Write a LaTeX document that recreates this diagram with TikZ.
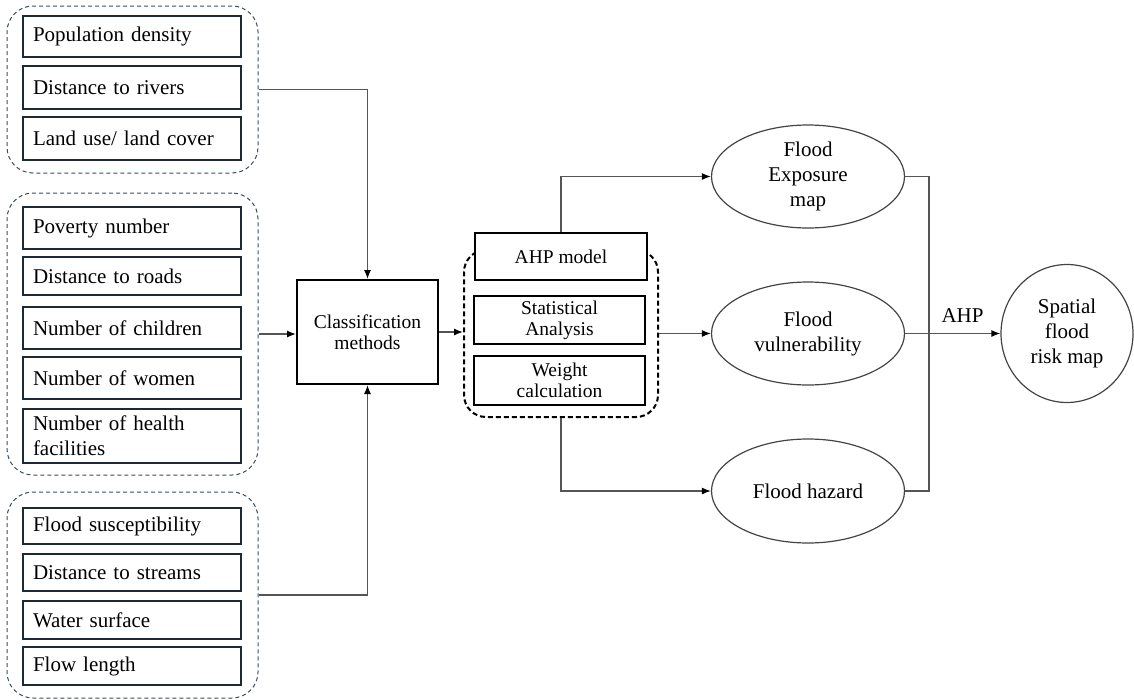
\documentclass[tikz,border=0pt]{standalone}
\usepackage{fontspec}
\setmainfont{Liberation Serif}
\usetikzlibrary{shapes.geometric,arrows.meta}
\definecolor{grpcol}{HTML}{3A4E5C}
\definecolor{boxcol}{HTML}{1E2A33}
\definecolor{conncol}{HTML}{555555}
\definecolor{ellcol}{HTML}{444444}
\tikzset{
  grp/.style={draw=grpcol, line width=1pt, dash pattern=on 4pt off 3pt, rounded corners=26pt, inner sep=0pt},
  inbox/.style={draw=boxcol, line width=1.3pt, fill=white, inner xsep=10pt, inner ysep=0pt,
     text width=198pt, align=left, font=\fontsize{21}{25}\selectfont},
  midbox/.style={draw=black, line width=2pt, fill=white, inner sep=0pt, align=center,
     font=\fontsize{19.5}{21}\selectfont},
  midgrp/.style={draw=black, line width=2pt, dash pattern=on 5pt off 3pt, rounded corners=22pt, inner sep=0pt},
  ell/.style={draw=ellcol, line width=1.2pt, ellipse, inner sep=0pt, align=center,
     font=\fontsize{21}{25}\selectfont},
  conn/.style={draw=conncol, line width=1.3pt},
  arr/.style={conn, -{Latex[length=9pt,width=7pt,color=black]}},
}
\begin{document}
\begin{tikzpicture}[x=1pt,y=-1pt]
\useasboundingbox (0,0) rectangle (1134,699);
% left groups
\node[grp, minimum width=251pt, minimum height=167pt] (g1) at (132.5,89.5) {};
\node[grp, minimum width=251pt, minimum height=282pt] (g2) at (132.5,334) {};
\node[grp, minimum width=251pt, minimum height=206pt] (g3) at (132.5,595) {};
% left boxes
\node[inbox, minimum height=41pt] (b1) at (132,36.5) {Population density};
\node[inbox, minimum height=43pt] (b2) at (132,87.5) {Distance to rivers};
\node[inbox, minimum height=43pt] (b3) at (132,138.5) {Land use/ land cover};
\node[inbox, minimum height=42pt] (b4) at (132,228) {Poverty number};
\node[inbox, minimum height=38pt] (b5) at (132,276) {Distance to roads};
\node[inbox, minimum height=42pt] (b6) at (132,328) {Number of children};
\node[inbox, minimum height=42pt] (b7) at (132,378) {Number of women};
\node[inbox, minimum height=54pt] (b8) at (132,436) {Number of health\\facilities};
\node[inbox, minimum height=36pt] (b9) at (132,526) {Flood susceptibility};
\node[inbox, minimum height=37pt] (b10) at (132,572.5) {Distance to streams};
\node[inbox, minimum height=38pt] (b11) at (132,620) {Water surface};
\node[inbox, minimum height=38pt] (b12) at (132,666) {Flow length};
% classification
\node[midbox, minimum width=141pt, minimum height=104pt] (cls) at (367.5,332) {Classification\\methods};
% middle group
\node[midgrp, minimum width=194pt, minimum height=167pt] (mid) at (561,333.5) {};
\node[midbox, minimum width=172pt, minimum height=47pt] (ahp) at (561,256.5) {AHP model};
\node[midbox, minimum width=171pt, minimum height=48pt] (sta) at (559.5,320) {Statistical\\Analysis};
\node[midbox, minimum width=171pt, minimum height=49pt] (wei) at (559.5,380.5) {Weight\\calculation};
% ellipses
\node[ell, minimum width=193pt, minimum height=103pt] (exp) at (808,176.5) {Flood\\Exposure\\map};
\node[ell, minimum width=193pt, minimum height=103pt] (vul) at (808,333.5) {Flood\\vulnerability};
\node[ell, minimum width=193pt, minimum height=104pt] (haz) at (808,491) {Flood hazard};
\node[ell, minimum width=132pt, minimum height=138pt] (risk) at (1067,333.5) {Spatial\\flood\\risk map};
\coordinate (j) at (929,333.5);
\node[font=\fontsize{21}{25}\selectfont, inner sep=0pt] (ahplab) at (962.5,316) {AHP};
% connectors
\draw[arr] (g1.east) -| (cls.north);
\draw[arr] (g2.east) -- (g2.east -| cls.west);
\draw[arr] (g3.east) -| (cls.south);
\draw[arr] (cls.east) -- (cls.east -| mid.west);
\draw[arr] (ahp.north) |- (exp.west);
\draw[arr] (mid.east) -- (vul.west);
\draw[arr] (mid.south) |- (haz.west);
\draw[conn] (exp.east) -| (j) |- (haz.east);
\draw[arr] (vul.east) -- (risk.west);
\end{tikzpicture}
\end{document}
